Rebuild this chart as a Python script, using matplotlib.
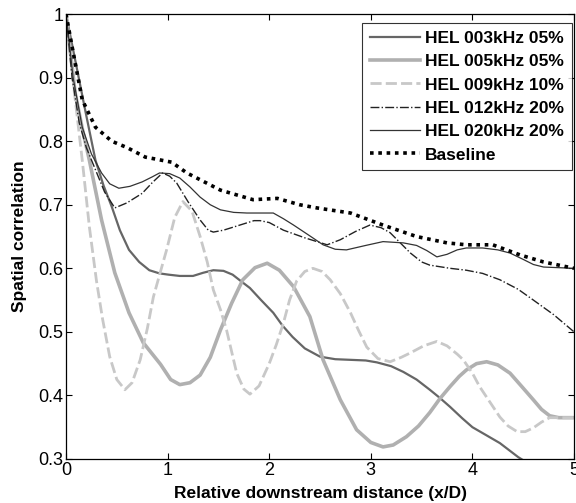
import matplotlib
matplotlib.use("Agg")
import matplotlib.pyplot as plt

plt.rcParams['font.family'] = ['Liberation Sans', 'DejaVu Sans']

labels = ["HEL 003kHz 05%", "HEL 005kHz 05%", "HEL 009kHz 10%",
          "HEL 012kHz 20%", "HEL 020kHz 20%", "Baseline"]

x003 = [0, 0.1, 0.2, 0.29, 0.37, 0.45, 0.53, 0.62, 0.72, 0.82, 0.92, 1.01, 1.12, 1.25, 1.35, 1.45, 1.55, 1.64, 1.72, 1.81, 1.92, 2.04, 2.13, 2.23, 2.35, 2.5, 2.65, 2.8, 2.95, 3.06, 3.2, 3.32, 3.45, 3.58, 3.68, 3.78, 3.9, 4.0, 4.13, 4.27, 4.45, 4.5]
y003 = [1.0, 0.92, 0.84, 0.77, 0.73, 0.697, 0.66, 0.629, 0.61, 0.597, 0.592, 0.59, 0.588, 0.588, 0.593, 0.597, 0.596, 0.59, 0.58, 0.569, 0.55, 0.53, 0.51, 0.492, 0.474, 0.461, 0.457, 0.456, 0.455, 0.452, 0.446, 0.437, 0.425, 0.409, 0.396, 0.382, 0.364, 0.35, 0.338, 0.325, 0.303, 0.298]

x005 = [0, 0.09, 0.16, 0.23, 0.35, 0.48, 0.62, 0.76, 0.93, 1.03, 1.12, 1.22, 1.32, 1.42, 1.52, 1.63, 1.74, 1.86, 1.98, 2.1, 2.24, 2.4, 2.53, 2.7, 2.86, 3.0, 3.12, 3.22, 3.35, 3.47, 3.58, 3.68, 3.78, 3.87, 3.94, 4.04, 4.14, 4.25, 4.37, 4.48, 4.6, 4.68, 4.76, 4.85, 5.0]
y005 = [1.0, 0.876, 0.82, 0.77, 0.676, 0.593, 0.53, 0.483, 0.449, 0.425, 0.417, 0.42, 0.432, 0.46, 0.503, 0.545, 0.582, 0.601, 0.608, 0.597, 0.571, 0.524, 0.456, 0.393, 0.346, 0.326, 0.319, 0.322, 0.335, 0.352, 0.373, 0.395, 0.414, 0.43, 0.44, 0.45, 0.453, 0.448, 0.435, 0.415, 0.393, 0.378, 0.368, 0.365, 0.365]

x009 = [0, 0.08, 0.16, 0.23, 0.3, 0.36, 0.43, 0.5, 0.58, 0.65, 0.73, 0.8, 0.86, 0.93, 0.99, 1.07, 1.15, 1.24, 1.32, 1.39, 1.45, 1.52, 1.58, 1.68, 1.75, 1.81, 1.9, 2.0, 2.07, 2.14, 2.2, 2.27, 2.35, 2.43, 2.52, 2.6, 2.7, 2.8, 2.88, 2.96, 3.07, 3.19, 3.3, 3.39, 3.52, 3.65, 3.75, 3.85, 3.91, 4.0, 4.07, 4.17, 4.27, 4.35, 4.44, 4.52, 4.6, 4.68, 4.76, 5.0]
y009 = [1.0, 0.88, 0.77, 0.665, 0.58, 0.52, 0.461, 0.425, 0.409, 0.42, 0.456, 0.505, 0.555, 0.595, 0.629, 0.68, 0.705, 0.69, 0.65, 0.61, 0.566, 0.535, 0.503, 0.435, 0.41, 0.402, 0.415, 0.45, 0.48, 0.514, 0.55, 0.58, 0.595, 0.60, 0.595, 0.582, 0.56, 0.53, 0.502, 0.476, 0.458, 0.453, 0.46, 0.467, 0.478, 0.485, 0.478, 0.465, 0.456, 0.435, 0.414, 0.39, 0.366, 0.352, 0.343, 0.343, 0.349, 0.358, 0.365, 0.365]

x012 = [0, 0.06, 0.13, 0.2, 0.29, 0.38, 0.48, 0.6, 0.75, 0.85, 0.95, 1.02, 1.09, 1.2, 1.32, 1.4, 1.45, 1.55, 1.71, 1.85, 1.91, 2.0, 2.14, 2.35, 2.57, 2.7, 2.85, 2.99, 3.1, 3.19, 3.29, 3.39, 3.5, 3.58, 3.78, 3.94, 4.1, 4.27, 4.45, 4.6, 4.8, 5.0]
y012 = [1.0, 0.9, 0.829, 0.79, 0.755, 0.72, 0.695, 0.703, 0.718, 0.735, 0.75, 0.745, 0.734, 0.705, 0.676, 0.66, 0.657, 0.66, 0.668, 0.675, 0.675, 0.672, 0.66, 0.648, 0.637, 0.645, 0.658, 0.668, 0.664, 0.656, 0.64, 0.624, 0.61, 0.605, 0.60, 0.597, 0.592, 0.582, 0.567, 0.55, 0.527, 0.50]

x020 = [0, 0.07, 0.16, 0.25, 0.35, 0.43, 0.52, 0.63, 0.75, 0.85, 0.92, 1.02, 1.12, 1.22, 1.32, 1.42, 1.52, 1.65, 1.78, 2.04, 2.14, 2.24, 2.4, 2.53, 2.65, 2.76, 2.95, 3.12, 3.32, 3.45, 3.55, 3.65, 3.75, 3.85, 3.94, 4.1, 4.25, 4.37, 4.5, 4.6, 4.7, 5.0]
y020 = [1.0, 0.9, 0.822, 0.78, 0.75, 0.733, 0.726, 0.729, 0.736, 0.744, 0.75, 0.749, 0.742, 0.728, 0.712, 0.70, 0.692, 0.688, 0.687, 0.687, 0.678, 0.668, 0.651, 0.637, 0.63, 0.629, 0.636, 0.642, 0.64, 0.636, 0.628, 0.618, 0.622, 0.629, 0.632, 0.632, 0.629, 0.624, 0.614, 0.606, 0.602, 0.60]

xbase = [0, 0.07, 0.16, 0.29, 0.45, 0.6, 0.78, 1.04, 1.19, 1.52, 1.84, 2.08, 2.3, 2.47, 2.8, 3.12, 3.45, 3.75, 3.94, 4.2, 4.47, 4.7, 5.0]
ybase = [1.0, 0.94, 0.865, 0.822, 0.80, 0.79, 0.775, 0.767, 0.75, 0.723, 0.708, 0.71, 0.70, 0.695, 0.687, 0.668, 0.65, 0.64, 0.637, 0.637, 0.621, 0.61, 0.60]

xticks = [0, 1, 2, 3, 4, 5]
yticks = [0.3, 0.4, 0.5, 0.6, 0.7, 0.8, 0.9, 1.0]
yticklabels = ["0.3", "0.4", "0.5", "0.6", "0.7", "0.8", "0.9", "1"]

fig = plt.figure(figsize=(5.76, 5.03), dpi=100)
ax = fig.add_axes([0.1146, 0.0875, 0.882, 0.8845])

ax.plot(x003, y003, color='#666666', lw=1.6, label=labels[0])
ax.plot(x005, y005, color='#b0b0b0', lw=2.6, label=labels[1])
ax.plot(x009, y009, color='#c8c8c8', lw=2.0, ls=(0, (4, 1.5)), label=labels[2])
ax.plot(x012, y012, color='#222222', lw=1.0, ls='-.', label=labels[3])
ax.plot(x020, y020, color='#333333', lw=0.9, label=labels[4])
ax.plot(xbase, ybase, color='black', lw=2.6, ls=(0, (1, 1.3)), label=labels[5])

ax.set_xlim(0, 5)
ax.set_ylim(0.3, 1.0)
ax.set_xticks(xticks)
ax.set_xticklabels([str(t) for t in xticks])
ax.set_yticks(yticks)
ax.set_yticklabels(yticklabels)
ax.tick_params(direction='in', top=True, right=True, length=4, labelsize=13, pad=2)
for s in ax.spines.values():
    s.set_linewidth(0.9)

ax.set_xlabel("Relative downstream distance (x/D)", fontsize=12.5, fontweight='bold', labelpad=5)
ax.set_ylabel("Spatial correlation", fontsize=12.5, fontweight='bold', labelpad=8)

leg = ax.legend(loc='upper right', bbox_to_anchor=(0.996, 0.980),
                prop={'weight': 'bold', 'size': 12.5},
                frameon=True, fancybox=False, handlelength=2.9, handletextpad=0.3,
                labelspacing=0.47, borderpad=0.45, borderaxespad=0.0)
leg.get_frame().set_edgecolor('black')
leg.get_frame().set_linewidth(0.8)

fig.savefig("out.png", dpi=100)
